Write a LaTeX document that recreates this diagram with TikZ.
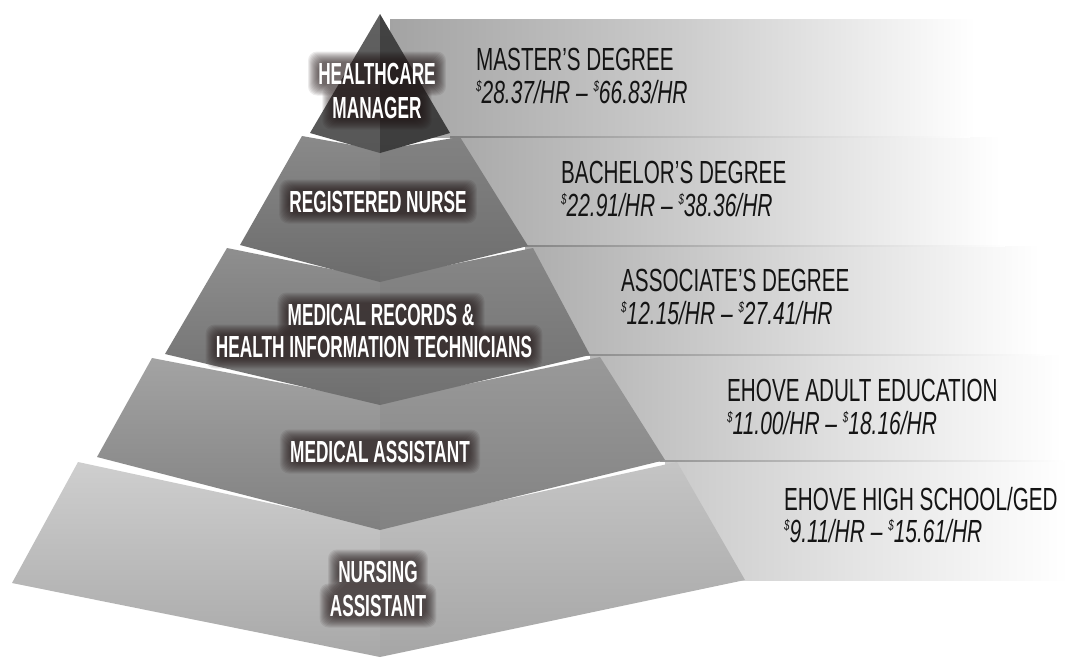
\documentclass[tikz,border=0pt]{standalone}
\usepackage{fontspec}
\setmainfont{Liberation Sans}
\usepackage{graphicx}
\definecolor{halo}{RGB}{30,18,18}
\definecolor{ink}{RGB}{20,20,20}
\pgfdeclarelayer{bg}
\pgfdeclarelayer{glow}
\pgfsetlayers{bg,glow,main}
\newcommand\labbox[1]{\scalebox{0.565}[1]{\fontsize{30.5}{34}\selectfont\bfseries #1}}
\newcommand\ttlbox[1]{\scalebox{0.646}[1]{\fontsize{32}{36}\selectfont #1}}
\newcommand\paybox[1]{\scalebox{0.655}[1]{\fontsize{32}{36}\selectfont\itshape #1}}
\newcommand\dol{\raisebox{12pt}{\fontsize{15}{15}\selectfont\$}}
\newcommand\plab[3]{%
  \node[labtxt] (#1) at (#2) {\labbox{#3}};
  \begin{pgfonlayer}{glow}
  \foreach \k in {0,...,10}{%
    \fill[halo,opacity=0.085,rounded corners=9pt]
      ([shift={(-\k,\k+1)}]#1.south west) rectangle ([shift={(\k,-\k-1)}]#1.north east);}
  \end{pgfonlayer}}
\begin{document}
\begin{tikzpicture}[x=1pt,y=-1pt,
  labtxt/.style={inner sep=0pt,anchor=base,text=white},
  ttl/.style={inner sep=0pt,anchor=base west,text=ink},
  sepline/.style={left color=#1,right color=white}]
\useasboundingbox (0,0) rectangle (1068,664);
\begin{pgfonlayer}{bg}
% background bands
\shade[left color=black!36, right color=white, middle color=black!20] (390,19) rectangle (975,137);
\shade[left color=black!34, right color=white, middle color=black!18] (450,137) rectangle (1000,246);
\shade[left color=black!32, right color=white, middle color=black!16] (525,246) rectangle (1040,355);
\shade[left color=black!28, right color=white, middle color=black!13] (590,355) rectangle (1062,461);
\shade[left color=black!21, right color=white, middle color=black!10] (665,461) rectangle (1068,580);
% band separators
\shade[sepline=black!50] (450,136.3) rectangle (970,137.7);
\shade[sepline=black!48] (525,245.3) rectangle (1005,246.7);
\shade[sepline=black!45] (585,354.3) rectangle (1045,355.7);
\shade[sepline=black!42] (660,460.3) rectangle (1064,461.7);
% tier 5
\shade[top color=black!19, bottom color=black!34] (78,462) -- (380,527) -- (380,657) -- (12,583) -- cycle;
\shade[top color=black!23, bottom color=black!35] (380,527) -- (677,462) -- (745,580) -- (380,657) -- cycle;
% tier 4
\shade[top color=black!36, bottom color=black!50] (152,358) -- (380,402) -- (380,530) -- (97,457) -- cycle;
\shade[top color=black!40, bottom color=black!49] (380,402) -- (600,357) -- (665,460) -- (380,530) -- cycle;
% tier 3
\shade[top color=black!44, bottom color=black!57] (227,248) -- (380,279) -- (380,405) -- (165,354) -- cycle;
\shade[top color=black!47, bottom color=black!56] (380,279) -- (533,248) -- (590,355) -- (380,405) -- cycle;
% tier 2
\shade[top color=black!46, bottom color=black!58] (302,136) -- (380,150) -- (380,282) -- (240,245) -- cycle;
\shade[top color=black!49, bottom color=black!57] (380,150) -- (460,137) -- (528,246) -- (380,282) -- cycle;
% tier 1
\shade[top color=black!62, bottom color=black!66] (380,14) -- (380,153) -- (310,133) -- cycle;
\shade[top color=black!74, bottom color=black!76] (380,14) -- (450,133) -- (380,153) -- cycle;
\end{pgfonlayer}
% pyramid labels
\coordinate (p1a) at (377,84);
\coordinate (p1b) at (377,118);
\coordinate (p2) at (378,212);
\coordinate (p3a) at (381,325);
\coordinate (p3b) at (374,357);
\coordinate (p4) at (380,462);
\coordinate (p5a) at (378,582);
\coordinate (p5b) at (378,616);
\plab{l1a}{p1a}{HEALTHCARE}
\plab{l1b}{p1b}{MANAGER}
\plab{l2}{p2}{REGISTERED NURSE}
\plab{l3a}{p3a}{MEDICAL RECORDS \&}
\plab{l3b}{p3b}{HEALTH INFORMATION TECHNICIANS}
\plab{l4}{p4}{MEDICAL ASSISTANT}
\plab{l5a}{p5a}{NURSING}
\plab{l5b}{p5b}{ASSISTANT}
% right texts
\node[ttl] (t1) at (476,70) {\ttlbox{MASTER’S DEGREE}};
\node[ttl] (w1) at (476,103) {\paybox{\dol28.37/HR – \dol66.83/HR}};
\node[ttl] (t2) at (561,183) {\ttlbox{BACHELOR’S DEGREE}};
\node[ttl] (w2) at (561,216) {\paybox{\dol22.91/HR – \dol38.36/HR}};
\node[ttl] (t3) at (621,291) {\ttlbox{ASSOCIATE’S DEGREE}};
\node[ttl] (w3) at (621,324) {\paybox{\dol12.15/HR – \dol27.41/HR}};
\node[ttl] (t4) at (727,401) {\ttlbox{EHOVE ADULT EDUCATION}};
\node[ttl] (w4) at (727,434) {\paybox{\dol11.00/HR – \dol18.16/HR}};
\node[ttl] (t5) at (784,510) {\ttlbox{EHOVE HIGH SCHOOL/GED}};
\node[ttl] (w5) at (784,542) {\paybox{\dol9.11/HR – \dol15.61/HR}};
\end{tikzpicture}
\end{document}
